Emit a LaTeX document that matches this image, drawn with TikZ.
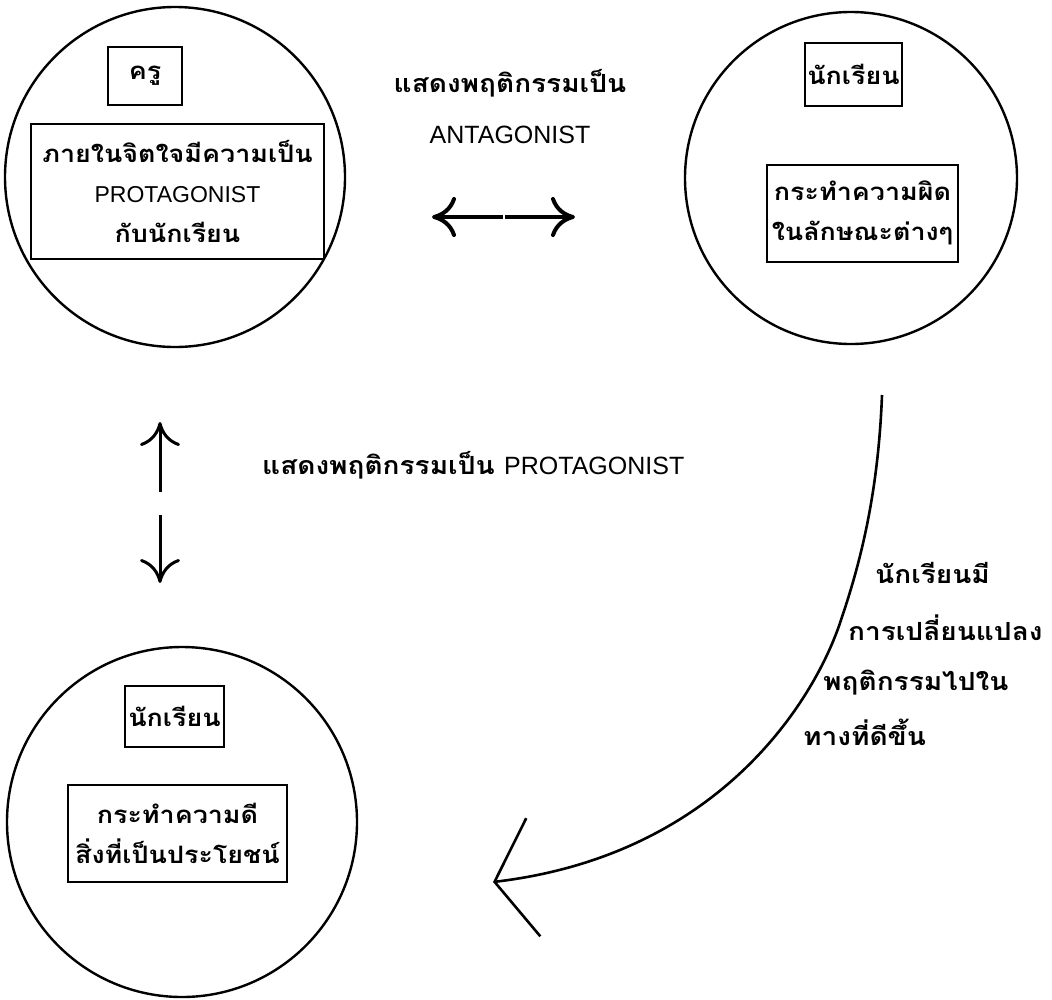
\documentclass[tikz,border=0pt]{standalone}
\usepackage{fontspec}
\setmainfont{Liberation Sans}
\newfontfamily\thaifont[Script=Thai,FakeStretch=1.12]{Loma}
\newfontfamily\latinfont{Liberation Sans}
\usetikzlibrary{arrows.meta}
\begin{document}
\begin{tikzpicture}[x=1pt,y=-1pt,
  ring/.style={draw, circle, line width=2.4pt, inner sep=0pt},
  tbox/.style={draw, line width=2pt, inner sep=0pt, align=center,
    font=\thaifont\bfseries\fontsize{24}{40}\selectfont},
  lbl/.style={inner sep=0pt, align=center, font=\thaifont\bfseries\fontsize{25}{40}\selectfont},
  lat/.style={font=\latinfont\fontsize{25}{30}\selectfont},
  cmtip/.style={-{Computer Modern Rightarrow[length=24pt,width=40pt]}},
  bigtip/.style={-{Straight Barb[length=39pt,width=119pt]}}
]
\useasboundingbox (0,0) rectangle (1052,999);
\fill[white] (0,0) rectangle (1052,999);

% circles
\node[ring, minimum size=340pt] (c1) at (175,177) {};
\node[ring, minimum size=332pt] (c2) at (851,178) {};
\node[ring, minimum size=350pt] (c3) at (182,822) {};

% boxes in circle 1
\node[tbox, minimum width=74pt, minimum height=58pt] (kru) at (145,76) {ครู};
\node[tbox, minimum width=293pt, minimum height=135pt] (inner) at (177.5,191.5)
  {ภายในจิตใจมีความเป็น\\{\latinfont\mdseries\fontsize{23}{40}\selectfont PROTAGONIST}\\กับนักเรียน};

% boxes in circle 2
\node[tbox, minimum width=97pt, minimum height=63pt] (st1) at (853.5,74.5) {นักเรียน};
\node[tbox, minimum width=191pt, minimum height=97pt] (bad) at (862.5,213)
  {กระทำความผิด\\ในลักษณะต่างๆ};

% boxes in circle 3
\node[tbox, minimum width=99pt, minimum height=61pt] (st2) at (174.5,716.5) {นักเรียน};
\node[tbox, minimum width=219pt, minimum height=97pt] (good) at (177.5,833)
  {กระทำความดี\\สิ่งที่เป็นประโยชน์};

% top middle label and double arrow
\node[lbl] (t1) at (510,83) {แสดงพฤติกรรมเป็น};
\node[lat, inner sep=0pt] (t2) at (510,135) {ANTAGONIST};
\coordinate (hL) at (503,217);
\coordinate (hLe) at (432,217);
\coordinate (hR) at (505,217);
\coordinate (hRe) at (575,217);
\draw[line width=4pt, cmtip] (hL) -- (hLe);
\draw[line width=4pt, cmtip] (hR) -- (hRe);

% vertical arrows and label
\coordinate (vU) at (160,492);
\coordinate (vUe) at (160,422);
\coordinate (vD) at (160,515);
\coordinate (vDe) at (160,583);
\draw[line width=3pt, cmtip] (vU) -- (vUe);
\draw[line width=3pt, cmtip] (vD) -- (vDe);
\node[lbl, anchor=west] (t3) at (262,465) {แสดงพฤติกรรมเป็น {\latinfont\mdseries PROTAGONIST}};

% curved arrow
\coordinate (cs) at (882,395);
\coordinate (cm) at (840,623);
\coordinate (ce) at (493,882);
\draw[line width=2.6pt, bigtip] (cs) .. controls (878,500) and (858,570) .. (cm)
  .. controls (814,700) and (720,855) .. (ce);
\node[lbl, anchor=west] (r1) at (875,573) {นักเรียนมี};
\node[lbl, anchor=west] (r2) at (848,628) {การเปลี่ยนแปลง};
\node[lbl, anchor=west] (r3) at (823,683) {พฤติกรรมไปใน};
\node[lbl, anchor=west] (r4) at (803,732) {ทางที่ดีขึ้น};
\end{tikzpicture}
\end{document}
